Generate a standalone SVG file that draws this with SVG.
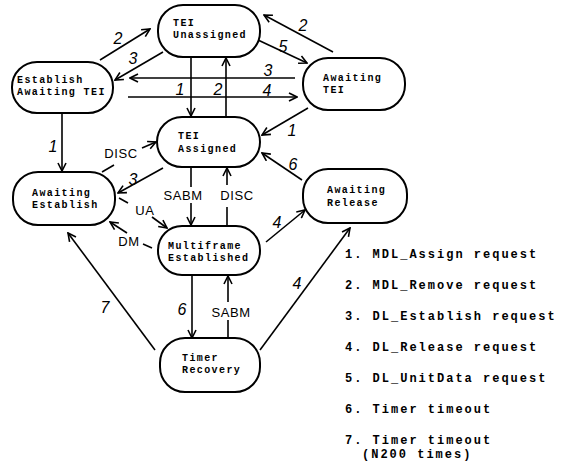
<svg xmlns="http://www.w3.org/2000/svg" width="564" height="465" viewBox="0 0 564 465">
<style>
.n rect{fill:#fff;stroke:#000;stroke-width:2}
.n text{font-family:"Liberation Mono",monospace;font-size:10px;font-weight:bold;letter-spacing:1.4px;fill:#000}
.c line{stroke:#000;stroke-width:1.6;fill:none}
.h{font-family:"Liberation Sans",sans-serif;font-style:italic;font-size:16px;text-anchor:middle;fill:#000}
.m{font-family:"Liberation Sans",sans-serif;font-size:13px;text-anchor:middle;letter-spacing:0.6px;fill:#000}
.lg{font-family:"Liberation Mono",monospace;font-size:12px;font-weight:bold;letter-spacing:2px;fill:#000}
</style>
<defs>
<marker id="a" viewBox="0 0 10 10" refX="9" refY="5" markerWidth="10" markerHeight="10" orient="auto" markerUnits="userSpaceOnUse">
<path d="M1,1 L9,5 L1,9" fill="none" stroke="#000" stroke-width="1.6"/>
</marker>
</defs>
<rect width="564" height="465" fill="#fff"/>
<g class="c" id="connectors">
<line x1="100" y1="60" x2="150" y2="29" marker-end="url(#a)"/>
<line x1="163" y1="52" x2="115" y2="80" marker-end="url(#a)"/>
<line x1="258" y1="40" x2="307" y2="63" marker-end="url(#a)"/>
<line x1="333" y1="52" x2="264" y2="15" marker-end="url(#a)"/>
<line x1="295" y1="78" x2="130" y2="78" marker-end="url(#a)"/>
<line x1="128" y1="97" x2="297" y2="97" marker-end="url(#a)"/>
<line x1="191" y1="57" x2="191" y2="116" marker-end="url(#a)"/>
<line x1="226" y1="117" x2="226" y2="58" marker-end="url(#a)"/>
<line x1="308" y1="108" x2="262" y2="135" marker-end="url(#a)"/>
<line x1="62" y1="113" x2="62" y2="171" marker-end="url(#a)"/>
<line x1="102" y1="172" x2="114" y2="165"/>
<line x1="142" y1="148" x2="156" y2="142" marker-end="url(#a)"/>
<line x1="163" y1="168" x2="118" y2="193" marker-end="url(#a)"/>
<line x1="119" y1="198" x2="128" y2="203"/>
<line x1="152" y1="217" x2="167" y2="228" marker-end="url(#a)"/>
<line x1="152" y1="248" x2="143" y2="244"/>
<line x1="127" y1="233" x2="110" y2="222" marker-end="url(#a)"/>
<line x1="191" y1="167" x2="191" y2="187"/>
<line x1="191" y1="203" x2="191" y2="225" marker-end="url(#a)"/>
<line x1="227" y1="225" x2="227" y2="207"/>
<line x1="227" y1="185" x2="227" y2="168" marker-end="url(#a)"/>
<line x1="302" y1="180" x2="262" y2="153" marker-end="url(#a)"/>
<line x1="266" y1="242" x2="305" y2="210" marker-end="url(#a)"/>
<line x1="260" y1="350" x2="350" y2="228" marker-end="url(#a)"/>
<line x1="192" y1="275" x2="192" y2="338" marker-end="url(#a)"/>
<line x1="228" y1="339" x2="228" y2="320"/>
<line x1="228" y1="302" x2="228" y2="276" marker-end="url(#a)"/>
<line x1="155" y1="350" x2="68" y2="233" marker-end="url(#a)"/>
<text class="h" x="118" y="44">2</text>
<text class="h" x="133" y="64">3</text>
<text class="h" x="283" y="52">5</text>
<text class="h" x="303" y="31">2</text>
<text class="h" x="268" y="76">3</text>
<text class="h" x="267" y="96">4</text>
<text class="h" x="180" y="95">1</text>
<text class="h" x="218" y="95">2</text>
<text class="h" x="292" y="136">1</text>
<text class="h" x="53" y="152">1</text>
<text class="m" x="121" y="158">DISC</text>
<text class="h" x="133" y="185">3</text>
<text class="m" x="145" y="215">UA</text>
<text class="m" x="129" y="246">DM</text>
<text class="m" x="183" y="200">SABM</text>
<text class="m" x="237" y="200">DISC</text>
<text class="h" x="293" y="170">6</text>
<text class="h" x="277" y="228">4</text>
<text class="h" x="297" y="289">4</text>
<text class="h" x="182" y="315">6</text>
<text class="m" x="231" y="317">SABM</text>
<text class="h" x="105" y="313">7</text>
</g>
<g class="n" id="tei_unassigned"><rect x="158" y="5" width="102" height="52" rx="25"/><text x="173" y="26">TEI</text><text x="173" y="38">Unassigned</text></g>
<g class="n" id="establish_awaiting_tei"><rect x="12" y="62" width="101" height="51" rx="25"/><text x="17" y="83">Establish</text><text x="17" y="95">Awaiting TEI</text></g>
<g class="n" id="awaiting_tei"><rect x="303" y="58" width="102" height="52" rx="25"/><text x="323" y="81">Awaiting</text><text x="323" y="93">TEI</text></g>
<g class="n" id="tei_assigned"><rect x="157" y="117" width="103" height="50" rx="25"/><text x="178" y="139">TEI</text><text x="178" y="152">Assigned</text></g>
<g class="n" id="awaiting_establish"><rect x="13" y="172" width="102" height="53" rx="25"/><text x="32" y="196">Awaiting</text><text x="32" y="208">Establish</text></g>
<g class="n" id="awaiting_release"><rect x="303" y="169" width="104" height="54" rx="25"/><text x="327" y="193">Awaiting</text><text x="327" y="206">Release</text></g>
<g class="n" id="multiframe_established"><rect x="158" y="226" width="102" height="49" rx="24"/><text x="168" y="249">Multiframe</text><text x="168" y="261">Established</text></g>
<g class="n" id="timer_recovery"><rect x="160" y="338" width="100" height="54" rx="25"/><text x="182" y="361">Timer</text><text x="182" y="373">Recovery</text></g>
<g id="legend">
<text class="lg" x="345" y="258">1. MDL_Assign request</text>
<text class="lg" x="345" y="289">2. MDL_Remove request</text>
<text class="lg" x="345" y="320">3. DL_Establish request</text>
<text class="lg" x="345" y="351">4. DL_Release request</text>
<text class="lg" x="345" y="382">5. DL_UnitData request</text>
<text class="lg" x="345" y="413">6. Timer timeout</text>
<text class="lg" x="345" y="444">7. Timer timeout</text>
<text class="lg" x="362" y="458">(N200 times)</text>
</g>
</svg>
